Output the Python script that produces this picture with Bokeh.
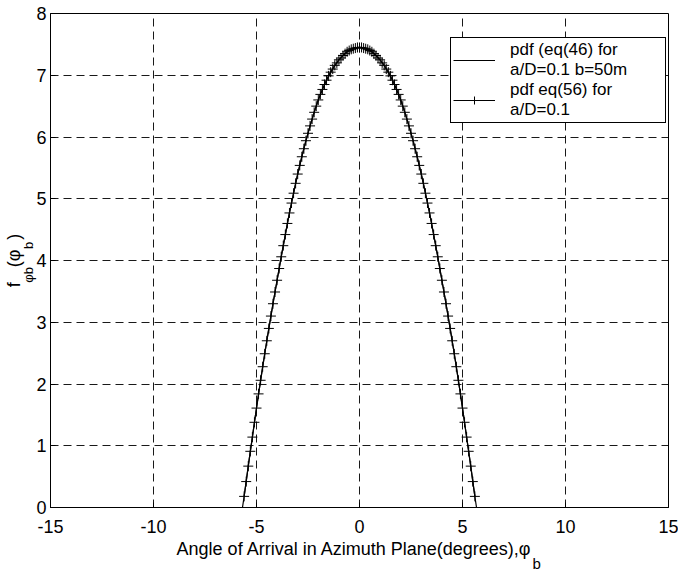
from bokeh.plotting import figure
from bokeh.models import Range1d, Legend, LegendItem, FixedTicker, LinearAxis
from bokeh.embed import file_html
from bokeh.resources import INLINE

# ---- data ----
x_ticks = [-15, -10, -5, 0, 5, 10, 15]
y_ticks = [0, 1, 2, 3, 4, 5, 6, 7, 8]

legend_labels = ["pdf (eq(46) for\na/D=0.1 b=50m", "pdf eq(56) for\na/D=0.1"]

# pdf eq(46), a/D=0.1, b=50m (solid line)
eq46_angle = [-5.68, -5.6, -5.4, -5.2, -5.0, -4.8, -4.6, -4.4, -4.2, -4.0, -3.8, -3.6,
              -3.4, -3.2, -3.0, -2.8, -2.6, -2.4, -2.2, -2.0, -1.8, -1.6, -1.4, -1.2,
              -1.0, -0.8, -0.6, -0.4, -0.2, 0.0, 0.2, 0.4, 0.6, 0.8, 1.0, 1.2, 1.4,
              1.6, 1.8, 2.0, 2.2, 2.4, 2.6, 2.8, 3.0, 3.2, 3.4, 3.6, 3.8, 4.0, 4.2,
              4.4, 4.6, 4.8, 5.0, 5.2, 5.4, 5.6, 5.68]
eq46_pdf = [0.0, 0.18, 0.67, 1.14, 1.61, 2.06, 2.49, 2.90, 3.30, 3.68, 4.06, 4.42,
            4.77, 5.09, 5.40, 5.68, 5.94, 6.18, 6.40, 6.60, 6.77, 6.92, 7.05, 7.16,
            7.25, 7.32, 7.38, 7.42, 7.44, 7.45, 7.44, 7.42, 7.38, 7.32, 7.25, 7.16, 7.05,
            6.92, 6.77, 6.60, 6.40, 6.18, 5.94, 5.68, 5.40, 5.09, 4.77, 4.42, 4.06, 3.68, 3.30,
            2.90, 2.49, 2.06, 1.61, 1.14, 0.67, 0.18, 0.0]

# pdf eq(56), a/D=0.1 (line with + markers)
eq56_angle = [-5.6, -5.5, -5.4, -5.3, -5.2, -5.1, -5.0, -4.9, -4.8, -4.7, -4.6, -4.5,
              -4.4, -4.3, -4.2, -4.1, -4.0, -3.9, -3.8, -3.7, -3.6, -3.5, -3.4, -3.3,
              -3.2, -3.1, -3.0, -2.9, -2.8, -2.7, -2.6, -2.5, -2.4, -2.3, -2.2, -2.1,
              -2.0, -1.9, -1.8, -1.7, -1.6, -1.5, -1.4, -1.3, -1.2, -1.1, -1.0, -0.9,
              -0.8, -0.7, -0.6, -0.5, -0.4, -0.3, -0.2, -0.1, 0.0, 0.1, 0.2, 0.3, 0.4,
              0.5, 0.6, 0.7, 0.8, 0.9, 1.0, 1.1, 1.2, 1.3, 1.4, 1.5, 1.6, 1.7, 1.8, 1.9,
              2.0, 2.1, 2.2, 2.3, 2.4, 2.5, 2.6, 2.7, 2.8, 2.9, 3.0, 3.1, 3.2, 3.3, 3.4,
              3.5, 3.6, 3.7, 3.8, 3.9, 4.0, 4.1, 4.2, 4.3, 4.4, 4.5, 4.6, 4.7, 4.8, 4.9,
              5.0, 5.1, 5.2, 5.3, 5.4, 5.5, 5.6]
eq56_pdf = [0.18, 0.42, 0.67, 0.91, 1.14, 1.38, 1.61, 1.84, 2.06, 2.28, 2.49, 2.70,
            2.90, 3.10, 3.30, 3.49, 3.68, 3.87, 4.06, 4.24, 4.42, 4.60, 4.77, 4.93,
            5.09, 5.25, 5.40, 5.54, 5.68, 5.81, 5.94, 6.06, 6.18, 6.29, 6.40, 6.50,
            6.60, 6.69, 6.77, 6.85, 6.92, 6.99, 7.05, 7.10, 7.16, 7.20, 7.25, 7.28,
            7.32, 7.35, 7.38, 7.40, 7.42, 7.43, 7.44, 7.45, 7.45, 7.45, 7.44, 7.43, 7.42,
            7.40, 7.38, 7.35, 7.32, 7.28, 7.25, 7.20, 7.16, 7.10, 7.05, 6.99, 6.92, 6.85, 6.77, 6.69,
            6.60, 6.50, 6.40, 6.29, 6.18, 6.06, 5.94, 5.81, 5.68, 5.54, 5.40, 5.25, 5.09, 4.93, 4.77,
            4.60, 4.42, 4.24, 4.06, 3.87, 3.68, 3.49, 3.30, 3.10, 2.90, 2.70, 2.49, 2.28, 2.06, 1.84,
            1.61, 1.38, 1.14, 0.91, 0.67, 0.42, 0.18]

# axis titles (main text and its subscripts)
NB = "\u00a0"
x_title = "Angle of Arrival in Azimuth Plane(degrees),\u03c6"
x_title_sub = "b"
y_title_main = "f" + NB * 3 + "(\u03c6" + NB * 2 + ")"
y_title_sub = "\u03c6b" + NB * 5 + "b" + NB

FONT = "Liberation Sans"

p = figure(x_range=Range1d(-15, 15), y_range=Range1d(0, 8),
           frame_width=618, frame_height=494,
           min_border_left=40, min_border_right=10, min_border_top=13, min_border_bottom=60,
           output_backend="svg", toolbar_location=None,
           background_fill_color="white", border_fill_color="white")

p.outline_line_color = "black"
p.outline_line_width = 1
p.outline_line_alpha = 1

for ax in list(p.xaxis) + list(p.yaxis):
    ax.major_tick_in = 5
    ax.major_tick_out = 0
    ax.minor_tick_line_color = None
    ax.minor_tick_out = 0
    ax.axis_line_color = "black"
    ax.major_tick_line_color = "black"
    ax.major_label_text_font = FONT
    ax.major_label_text_font_size = "18px"
    ax.major_label_text_color = "black"
    ax.axis_label_text_font = FONT
    ax.axis_label_text_font_style = "normal"
    ax.axis_label_text_color = "black"

p.xaxis.ticker = FixedTicker(ticks=x_ticks)
p.yaxis.ticker = FixedTicker(ticks=y_ticks)
p.xaxis.major_label_overrides = {t: str(t) for t in x_ticks}
p.yaxis.major_label_overrides = {t: str(t) for t in y_ticks}
p.xaxis.major_label_standoff = 12
p.yaxis.major_label_standoff = 4

# x title (centred together with its subscript)
p.xaxis.axis_label = x_title + NB * 2
p.xaxis.axis_label_text_font_size = "18px"
p.xaxis.axis_label_standoff = 3
# y title subscripts (inner column)
p.yaxis.axis_label = y_title_sub
p.yaxis.axis_label_text_font_size = "13px"
p.yaxis.axis_label_standoff = -3


def label_axis(text, size, standoff):
    return LinearAxis(ticker=FixedTicker(ticks=[]), axis_label=text,
                      axis_line_color=None, major_tick_line_color=None,
                      minor_tick_line_color=None, major_tick_in=0, major_tick_out=0,
                      minor_tick_in=0, minor_tick_out=0, major_label_text_font_size="0px",
                      axis_label_text_font=FONT, axis_label_text_font_size=size,
                      axis_label_text_font_style="normal", axis_label_text_color="black",
                      axis_label_standoff=standoff)


# subscript b of the x title, and main text of the y title (outer columns)
p.add_layout(label_axis(NB * 85 + x_title_sub, "15px", -7), "below")
p.add_layout(label_axis(y_title_main, "18px", -5), "left")

p.grid.grid_line_color = "black"
p.grid.grid_line_dash = "8 5"
p.grid.grid_line_width = 1
p.grid.grid_line_alpha = 0.9
p.xgrid.ticker = FixedTicker(ticks=x_ticks)
p.ygrid.ticker = FixedTicker(ticks=y_ticks)

r1 = p.line(eq46_angle, eq46_pdf, line_color="black", line_width=1.2)
r2 = p.line(eq56_angle, eq56_pdf, line_color="black", line_width=1.2)
r3 = p.scatter(eq56_angle, eq56_pdf, marker="cross", size=10,
               line_color="black", line_width=1)

legend = Legend(items=[LegendItem(label=legend_labels[0], renderers=[r1]),
                       LegendItem(label=legend_labels[1], renderers=[r2, r3])],
                location=(400, 384), orientation="vertical",
                border_line_color="black", border_line_width=1, border_line_alpha=1,
                background_fill_color="white", background_fill_alpha=1,
                padding=2, spacing=0, margin=0, glyph_width=42, glyph_height=20,
                label_standoff=15, label_width=153,
                label_text_font=FONT, label_text_font_size="17px",
                label_text_line_height=1.0, label_text_color="black")
p.add_layout(legend)

open("out.html", "w").write(file_html(p, INLINE))
